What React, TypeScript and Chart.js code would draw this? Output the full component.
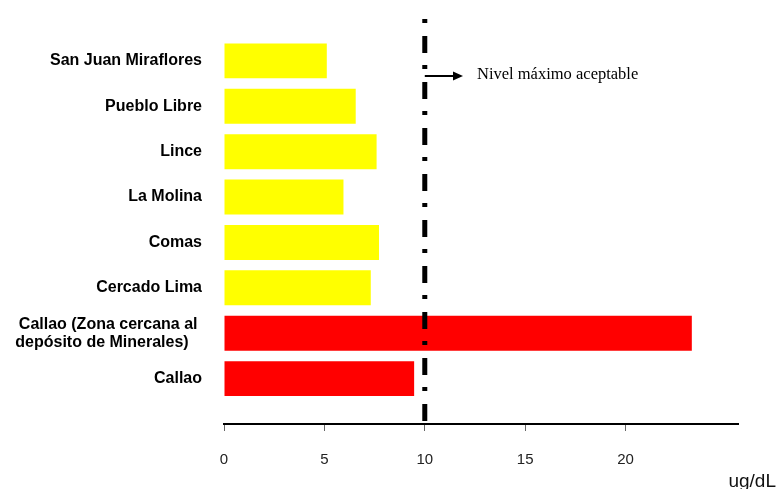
import React, { useEffect, useRef } from "react";
import { Chart, registerables } from "chart.js";

Chart.register(...registerables);

const categories: (string | string[])[] = [
  "San Juan Miraflores",
  "Pueblo Libre",
  "Lince",
  "La Molina",
  "Comas",
  "Cercado Lima",
  ["Callao (Zona cercana al ", "depósito de Minerales)   "],
  "Callao",
];
const values = [5.12, 6.56, 7.6, 5.95, 7.72, 7.31, 23.3, 9.47];
const barColors = ["#FFFF00", "#FFFF00", "#FFFF00", "#FFFF00", "#FFFF00", "#FFFF00", "#FF0000", "#FF0000"];
const xTicks = [0, 5, 10, 15, 20];
const limitValue = 10;
const limitLabel = "Nivel máximo aceptable";
const unitLabel = "ug/dL";

const overlayPlugin = {
  id: "overlay",
  afterDatasetsDraw(chart: any) {
    const { ctx, chartArea, scales } = chart;
    const x = scales.x.getPixelForValue(limitValue);
    ctx.save();
    // dash-dot limit line
    ctx.strokeStyle = "#000";
    ctx.lineWidth = 5;
    ctx.lineCap = "butt";
    ctx.setLineDash([4, 13, 17, 12]);
    ctx.beginPath();
    ctx.moveTo(x, chartArea.top + 3.5);
    ctx.lineTo(x, chartArea.bottom);
    ctx.stroke();
    ctx.setLineDash([]);
    // arrow
    const ay = 76;
    ctx.lineWidth = 2;
    ctx.beginPath();
    ctx.moveTo(x, ay);
    ctx.lineTo(455, ay);
    ctx.stroke();
    ctx.fillStyle = "#000";
    ctx.beginPath();
    ctx.moveTo(463, ay);
    ctx.lineTo(453, ay - 4.5);
    ctx.lineTo(453, ay + 4.5);
    ctx.closePath();
    ctx.fill();
    // label
    ctx.font = "16.5px 'Liberation Serif', 'Times New Roman', serif";
    ctx.textAlign = "left";
    ctx.textBaseline = "middle";
    ctx.fillText(limitLabel, 477, ay - 1);
    // unit
    ctx.font = "19px 'Liberation Sans', Arial, sans-serif";
    ctx.textAlign = "right";
    ctx.textBaseline = "alphabetic";
    ctx.fillStyle = "#111";
    ctx.fillText(unitLabel, 776, 487);
    ctx.restore();
  },
};

export default function App() {
  const canvasRef = useRef<HTMLCanvasElement | null>(null);

  useEffect(() => {
    if (!canvasRef.current) return;
    const chart = new Chart(canvasRef.current, {
      type: "bar",
      data: {
        datasets: [
          {
            data: values.map((v, i) => ({ x: v, y: i })),
            backgroundColor: barColors,
            borderWidth: 0,
            barPercentage: 0.77,
            categoryPercentage: 1,
          },
        ],
      },
      options: {
        indexAxis: "y",
        animation: false,
        responsive: true,
        maintainAspectRatio: false,
        layout: { padding: { top: 15.5, right: 39, bottom: 20, left: 0 } },
        plugins: { legend: { display: false }, tooltip: { enabled: false } },
        scales: {
          x: {
            type: "linear",
            min: 0,
            max: 25.6,
            afterBuildTicks: (scale: any) => {
              scale.ticks = xTicks.map((v) => ({ value: v }));
            },
            afterFit: (scale: any) => {
              scale.height = 45;
            },
            border: { display: true, color: "#000", width: 2 },
            grid: { drawOnChartArea: false, drawTicks: true, tickLength: 7, color: "#666", lineWidth: 1 },
            ticks: {
              padding: 20,
              maxRotation: 0,
              color: "#222",
              font: { family: "'Liberation Sans', Arial, sans-serif", size: 15 },
            },
          },
          y: {
            type: "linear",
            reverse: true,
            offset: false,
            grace: 0,
            min: -1,
            max: 8,
            afterBuildTicks: (scale: any) => {
              scale.ticks = categories.map((_, i) => ({ value: i }));
            },
            afterFit: (scale: any) => {
              scale.width = 224;
              scale.paddingTop = 0;
              scale.paddingBottom = 0;
            },
            border: { display: false },
            grid: { display: false, drawTicks: false, offset: false },
            ticks: {
              padding: 22,
              color: "#000",
              autoSkip: false,
              callback: (value: any) => categories[value as number] as any,
              font: { family: "'Liberation Sans', Arial, sans-serif", size: 16, weight: "bold", lineHeight: 1.12 },
            },
          },
        },
      },
      plugins: [overlayPlugin],
    } as any);
    return () => chart.destroy();
  }, []);

  return (
    <div style={{ position: "fixed", left: 0, top: 0, width: 777, height: 489, background: "#fff" }}>
      <canvas ref={canvasRef} />
    </div>
  );
}
